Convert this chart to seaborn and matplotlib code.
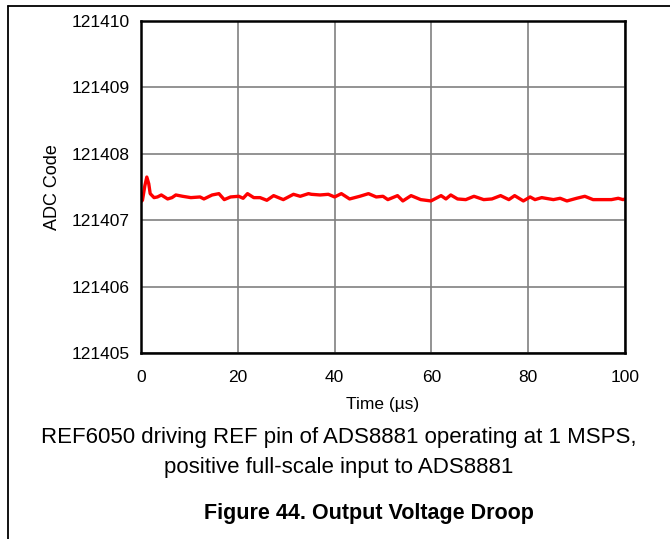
import matplotlib
matplotlib.use("Agg")
import matplotlib.pyplot as plt
import seaborn as sns
import pandas as pd
from matplotlib.lines import Line2D

# Values (time in us, ADC code)
time_us = [0.0, 0.3, 0.8, 1.2, 1.6, 1.9, 2.7, 3.4, 4.2, 5.5, 6.4, 7.2, 8.6,
           10.3, 12.2, 13.0, 14.7, 16.1, 17.2, 18.5, 20.2, 21.1, 22.0, 23.3,
           24.6, 26.0, 27.4, 29.4, 31.5, 32.9, 34.6, 35.2, 37.0, 38.7, 40.0,
           41.4, 43.1, 45.2, 47.0, 48.6, 50.0, 51.0, 53.0, 54.1, 55.8, 57.8,
           59.9, 62.0, 63.0, 64.0, 65.4, 67.1, 68.8, 70.8, 72.5, 74.3, 76.0,
           77.2, 79.0, 80.4, 81.4, 82.8, 85.2, 86.6, 88.0, 90.0, 91.7, 93.4,
           95.1, 97.2, 98.6, 99.6, 100.0]
adc_code = [121407.28, 121407.30, 121407.52, 121407.65, 121407.55, 121407.40,
            121407.34, 121407.35, 121407.38, 121407.32, 121407.34, 121407.38,
            121407.36, 121407.34, 121407.35, 121407.32, 121407.38, 121407.40,
            121407.31, 121407.35, 121407.36, 121407.33, 121407.40, 121407.34,
            121407.34, 121407.30, 121407.37, 121407.31, 121407.39, 121407.36,
            121407.40, 121407.39, 121407.38, 121407.39, 121407.35, 121407.40,
            121407.32, 121407.36, 121407.40, 121407.35, 121407.36, 121407.31,
            121407.37, 121407.29, 121407.37, 121407.31, 121407.29, 121407.37,
            121407.32, 121407.38, 121407.32, 121407.31, 121407.36, 121407.31,
            121407.32, 121407.37, 121407.31, 121407.37, 121407.29, 121407.35,
            121407.31, 121407.34, 121407.31, 121407.33, 121407.29, 121407.33,
            121407.36, 121407.31, 121407.31, 121407.31, 121407.33, 121407.31,
            121407.32]

x_ticks = [0, 20, 40, 60, 80, 100]
y_ticks = [121405, 121406, 121407, 121408, 121409, 121410]

df = pd.DataFrame({"time": time_us, "code": adc_code})

sns.set_style("white")
plt.rcParams["font.family"] = ["Liberation Sans", "DejaVu Sans"]
plt.rcParams["text.color"] = "black"
plt.rcParams["axes.labelcolor"] = "black"
plt.rcParams["xtick.color"] = "black"
plt.rcParams["ytick.color"] = "black"

fig = plt.figure(figsize=(6.7, 5.39), dpi=100)
ax = fig.add_axes([141 / 670, 1 - 353 / 539, (625 - 141) / 670, (353 - 21) / 539])

sns.lineplot(data=df, x="time", y="code", color="#ff0000", linewidth=2.4, ax=ax)

ax.set_xlim(0, 100)
ax.set_ylim(121405, 121410)
ax.set_xticks(x_ticks)
ax.set_yticks(y_ticks)
ax.set_yticklabels([str(v) for v in y_ticks])
ax.grid(True, color="#808080", linewidth=1.2)
ax.set_axisbelow(True)
for s in ax.spines.values():
    s.set_color("black")
    s.set_linewidth(1.8)
ax.tick_params(axis="both", length=0, labelsize=12.5)
ax.tick_params(axis="x", pad=12)
ax.tick_params(axis="y", pad=8)
ax.set_xlabel("Time (\u00b5s)", fontsize=12.5, labelpad=9)
ax.set_ylabel("ADC Code", fontsize=13, labelpad=8)

fig.text(0.505, 1 - 438 / 539, "REF6050 driving REF pin of ADS8881 operating at 1 MSPS,",
         ha="center", va="center", fontsize=16)
fig.text(0.505, 1 - 468 / 539, "positive full-scale input to ADS8881",
         ha="center", va="center", fontsize=16)
fig.text(0.55, 1 - 513 / 539, "Figure 44. Output Voltage Droop",
         ha="center", va="center", fontsize=15.5, fontweight="bold")

# page border lines (top and left)
fig.add_artist(Line2D([8 / 670, 1.0], [1 - 6 / 539, 1 - 6 / 539], color="black", linewidth=1.3,
                      transform=fig.transFigure))
fig.add_artist(Line2D([8 / 670, 8 / 670], [0.0, 1 - 6 / 539], color="black", linewidth=1.3,
                      transform=fig.transFigure))

fig.savefig("out.png", dpi=100)
